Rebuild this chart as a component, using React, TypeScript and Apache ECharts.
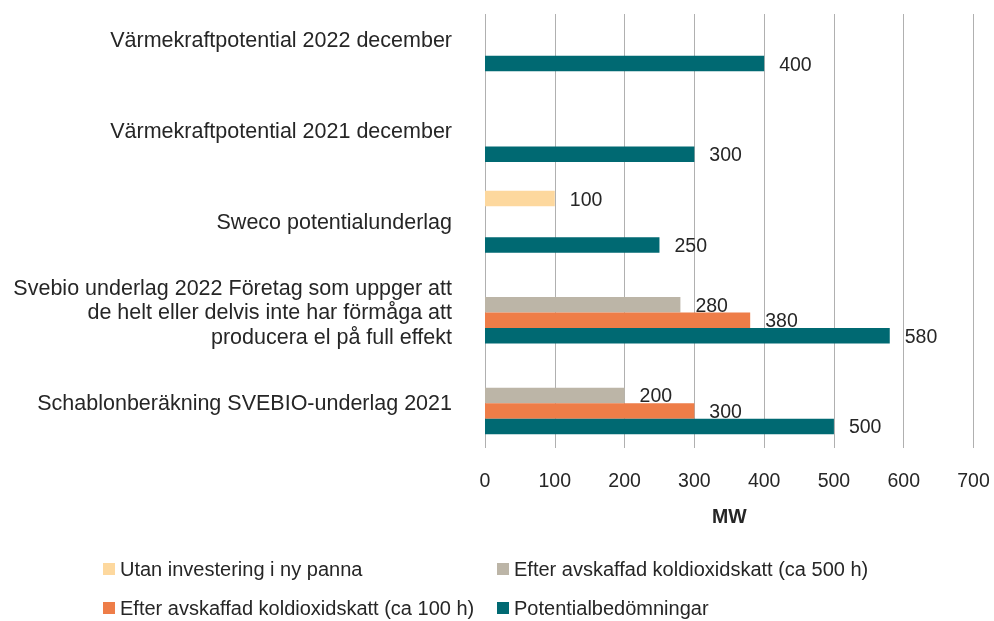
import React, { useEffect, useRef } from "react";
import * as echarts from "echarts";

const categories = [
  "Schablonberäkning SVEBIO-underlag 2021",
  "Svebio underlag 2022 Företag som uppger att\nde helt eller delvis inte har förmåga att\nproducera el på full effekt",
  "Sweco potentialunderlag",
  "Värmekraftpotential 2021 december",
  "Värmekraftpotential 2022 december",
];
const potential = [500, 580, 250, 300, 400];
const after100 = [300, 380, null, null, null];
const after500 = [200, 280, null, null, null];
const withoutInvest = [null, null, 100, null, null];
const xTicks = [0, 700, 100];

const FONT = "Liberation Sans, Arial, sans-serif";
const TXT = "#262626";

export default function App() {
  const ref = useRef<HTMLDivElement>(null);
  useEffect(() => {
    if (!ref.current) return;
    const chart = echarts.init(ref.current, null, { renderer: "svg" });
    const left = 485;
    const width = 488.5;
    const label = {
      show: true,
      position: "right",
      distance: 15,
      fontSize: 19.5,
      color: TXT,
      fontFamily: FONT,
    };
    const mk = (name: string, data: any[], color: string) => ({
      name,
      type: "bar",
      data,
      xAxisIndex: 0,
      yAxisIndex: 0,
      barGap: "0%",
      barCategoryGap: "31.7%",
      itemStyle: { color },
      label,
    });
    chart.setOption({
      animation: false,
      textStyle: { fontFamily: FONT },
      grid: [
        { left, width, top: -5.1, height: 453.7, outerBoundsMode: "none", containLabel: false },
        { left, width, top: 14, height: 434, outerBoundsMode: "none", containLabel: false },
      ],
      xAxis: [
        {
          gridIndex: 0,
          type: "value",
          min: xTicks[0],
          max: xTicks[1],
          interval: xTicks[2],
          show: false,
        },
        {
          gridIndex: 1,
          type: "value",
          min: xTicks[0],
          max: xTicks[1],
          interval: xTicks[2],
          axisLine: { show: false },
          axisTick: { show: false },
          splitLine: { show: true, lineStyle: { color: "#B0B0B0", width: 1 } },
          axisLabel: { fontSize: 19.5, color: TXT, margin: 22, fontFamily: FONT },
          name: "MW",
          nameLocation: "middle",
          nameGap: 58,
          nameTextStyle: { fontSize: 19.5, fontWeight: "bold", color: TXT, fontFamily: FONT },
        },
      ],
      yAxis: [
        {
          gridIndex: 0,
          type: "category",
          data: categories.map((c, i) =>
            i === 1 ? { value: c, textStyle: { padding: [18, 0, 0, 0] } } : c
          ),
          axisLine: { show: false },
          axisTick: { show: false },
          axisLabel: {
            fontSize: 21.5,
            color: TXT,
            margin: 33,
            lineHeight: 24.5,
            align: "right",
            fontFamily: FONT,
          },
        },
        {
          gridIndex: 1,
          type: "value",
          min: 0,
          max: 1,
          show: false,
        },
      ],
      legend: [
        { data: ["Utan investering i ny panna"], left: 103, top: 559 },
        { data: ["Efter avskaffad koldioxidskatt (ca 500 h)"], left: 497, top: 559 },
        { data: ["Efter avskaffad koldioxidskatt (ca 100 h)"], left: 103, top: 598 },
        { data: ["Potentialbedömningar"], left: 497, top: 598 },
      ].map((l) => ({
        ...l,
        icon: "rect",
        itemWidth: 12,
        itemHeight: 12,
        padding: 0,
        textStyle: { fontSize: 20, color: TXT, fontFamily: FONT },
      })),
      series: [
        mk("Utan investering i ny panna", withoutInvest, "#FDD89E"),
        mk("Efter avskaffad koldioxidskatt (ca 500 h)", after500, "#BCB5A7"),
        mk("Efter avskaffad koldioxidskatt (ca 100 h)", after100, "#EE7D48"),
        mk("Potentialbedömningar", potential, "#006972"),
      ],
    });
    return () => chart.dispose();
  }, []);
  return (
    <div
      ref={ref}
      style={{ position: "fixed", left: 0, top: 0, width: 994, height: 621 }}
    />
  );
}
